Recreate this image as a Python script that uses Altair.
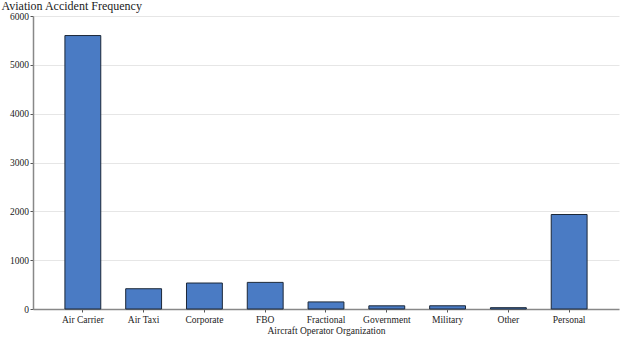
import altair as alt
import pandas as pd

categories = ["Air Carrier", "Air Taxi", "Corporate", "FBO", "Fractional",
              "Government", "Military", "Other", "Personal"]
counts = [5600, 415, 532, 545, 145, 65, 66, 27, 1935]
y_ticks = [0, 1000, 2000, 3000, 4000, 5000, 6000]

df = pd.DataFrame({"org": categories, "count": counts})

FONT = "Liberation Serif"

common = dict(titleFontWeight="normal", labelColor="#222", titleColor="#222",
              domainColor="#888", domainWidth=1.5, tickColor="#555", tickSize=3)

chart = alt.Chart(df).mark_bar(
    color="#4a7bc4", stroke="#1c2838", strokeWidth=1
).encode(
    x=alt.X("org:N", sort=categories,
            scale=alt.Scale(paddingInner=0.41, paddingOuter=0.525),
            axis=alt.Axis(title="Aircraft Operator Organization", labelAngle=0,
                          labelFontSize=9.5, titleFontSize=9.5, labelPadding=2,
                          titlePadding=2, grid=False, **common)),
    y=alt.Y("count:Q", scale=alt.Scale(domain=[0, 6000]),
            axis=alt.Axis(title="Aviation Accident Frequency", values=y_ticks, format="d",
                          labelFontSize=9.5, titleFontSize=12,
                          titleAngle=0, titleAlign="left", titleBaseline="alphabetic",
                          titleX=-32, titleY=-7, labelPadding=1.5,
                          gridColor="#e6e6e6", gridWidth=1, **common)),
).properties(
    width=586, height=293,
    autosize=alt.AutoSizeParams(type="none"),
    padding={"left": 33, "top": 16, "right": 5, "bottom": 30},
).configure(font=FONT).configure_view(stroke=None)

chart.save("out.html", embed_options={"renderer": "svg", "actions": False})
